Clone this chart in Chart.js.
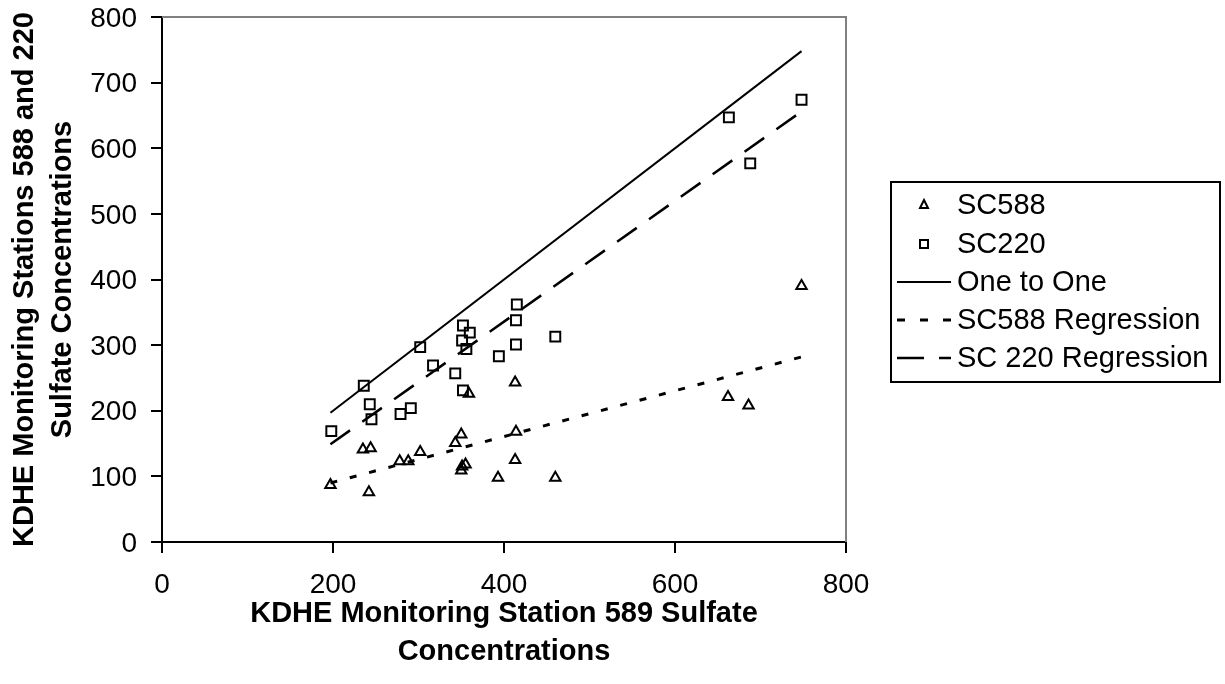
<!DOCTYPE html>
<html>
<head>
<meta charset="utf-8">
<script src="https://cdn.jsdelivr.net/npm/chart.js@4.4.1/dist/chart.umd.min.js"></script>
<style>
  body { margin: 0; background: #fff; }
  #wrap { width: 1225px; height: 684px; }
</style>
</head>
<body>
<div id="wrap"><canvas id="chart" width="1225" height="684"></canvas></div>
<script>
// values
const sc588_x = [197, 235, 244, 242, 278, 288, 302, 343, 350, 350, 351, 355, 359, 393, 413, 414, 413, 460, 662, 686, 748];
const sc588_y = [87, 141, 143, 76, 123, 123, 137, 151, 164, 109, 115, 118, 226, 98, 243, 168, 125, 98, 221, 208, 390];

const sc220_x = [198, 236, 243, 245, 279, 291, 302, 317, 343, 352, 352, 351, 360, 356, 394, 414, 414, 415, 460, 663, 688, 748];
const sc220_y = [169, 238, 210, 187, 195, 204, 297, 269, 257, 231, 330, 307, 319, 294, 283, 301, 338, 362, 313, 647, 577, 674];

const one_x = [197, 748];
const one_y = [197, 748];

const reg588_x = [197, 748];
const reg588_y = [90, 282];

const reg220_x = [197, 748];
const reg220_y = [149, 656];

const x_ticks = [0, 200, 400, 600, 800];
const y_ticks = [0, 100, 200, 300, 400, 500, 600, 700, 800];

const FONT = "'Liberation Sans', Arial, sans-serif";

function toPoints(xs, ys){
    let pts = [];
    for(let i = 0; i < xs.length; i++){
        pts.push({x: xs[i], y: ys[i]});
    }
    return pts;
}

// grey top and right edge of the plot box
const plotFrame = {
    id: "plotFrame",
    beforeDatasetsDraw(chart){
        const a = chart.chartArea;
        const ctx = chart.ctx;
        ctx.save();
        ctx.strokeStyle = "#808080";
        ctx.lineWidth = 2;
        ctx.beginPath();
        ctx.moveTo(a.left, a.top);
        ctx.lineTo(a.right, a.top);
        ctx.lineTo(a.right, a.bottom);
        ctx.stroke();
        ctx.restore();
    }
};

// legend box at the right, drawn like the original
const boxLegend = {
    id: "boxLegend",
    afterDraw(chart){
        const ctx = chart.ctx;
        const rows = [205, 244, 282, 320, 358];
        ctx.save();
        ctx.strokeStyle = "#000";
        ctx.lineWidth = 2;
        ctx.strokeRect(891, 182, 329, 200);

        chart.data.datasets.forEach(function(ds, i){
            const y = rows[i];
            ctx.save();
            ctx.strokeStyle = "#000";
            if(ds.showLine){
                ctx.lineWidth = ds.borderWidth;
                ctx.setLineDash(ds.legendDash || []);
                ctx.beginPath();
                ctx.moveTo(897, y);
                ctx.lineTo(951, y);
                ctx.stroke();
            } else if(ds.pointStyle === "rect"){
                ctx.lineWidth = 2;
                ctx.strokeRect(920, y - 4, 8, 8);
            } else {
                ctx.lineWidth = 2;
                ctx.beginPath();
                ctx.moveTo(924, y - 5);
                ctx.lineTo(928, y + 3);
                ctx.lineTo(920, y + 3);
                ctx.closePath();
                ctx.stroke();
            }
            ctx.restore();

            ctx.fillStyle = "#000";
            ctx.font = "29px " + FONT;
            ctx.textBaseline = "middle";
            ctx.textAlign = "left";
            ctx.fillText(ds.label, 957, y + 1);
        });
        ctx.restore();
    }
};

new Chart(document.getElementById("chart").getContext("2d"), {
    type: "scatter",
    data: {
        datasets: [
            {
                label: "SC588",
                data: toPoints(sc588_x, sc588_y),
                pointStyle: "triangle",
                pointRadius: 6,
                borderColor: "#000",
                backgroundColor: "transparent",
                borderWidth: 2,
                showLine: false
            },
            {
                label: "SC220",
                data: toPoints(sc220_x, sc220_y),
                pointStyle: "rect",
                pointRadius: 7,
                borderColor: "#000",
                backgroundColor: "transparent",
                borderWidth: 2,
                showLine: false
            },
            {
                label: "One to One",
                data: toPoints(one_x, one_y),
                showLine: true,
                pointRadius: 0,
                borderColor: "#000",
                borderWidth: 2
            },
            {
                label: "SC588 Regression",
                data: toPoints(reg588_x, reg588_y),
                showLine: true,
                pointRadius: 0,
                borderColor: "#000",
                borderWidth: 3,
                borderDash: [7, 13],
                legendDash: [8, 15]
            },
            {
                label: "SC 220 Regression",
                data: toPoints(reg220_x, reg220_y),
                showLine: true,
                pointRadius: 0,
                borderColor: "#000",
                borderWidth: 2.5,
                borderDash: [24, 15],
                legendDash: [27, 15]
            }
        ]
    },
    options: {
        responsive: false,
        animation: false,
        devicePixelRatio: 1,
        layout: {
            padding: {top: 17, right: 379, bottom: 0, left: 0}
        },
        plugins: {
            legend: {display: false},
            tooltip: {enabled: false}
        },
        scales: {
            x: {
                type: "linear",
                min: 0,
                max: 800,
                afterBuildTicks: function(scale){
                    scale.ticks = x_ticks.map(function(v){ return {value: v}; });
                },
                afterFit: function(scale){
                    scale.height = 142;
                    scale.paddingLeft = 0;
                    scale.paddingRight = 0;
                },
                grid: {drawOnChartArea: false, drawTicks: true, tickLength: 11, color: "#000", lineWidth: 2},
                border: {display: true, color: "#000", width: 2},
                ticks: {color: "#000", padding: 15, maxRotation: 0, font: {family: FONT, size: 28}},
                title: {
                    display: true,
                    text: ["KDHE Monitoring Station 589 Sulfate", "Concentrations"],
                    color: "#000",
                    padding: {top: 0, bottom: 13},
                    font: {family: FONT, size: 29, weight: "bold", lineHeight: 1.3}
                }
            },
            y: {
                type: "linear",
                min: 0,
                max: 800,
                afterBuildTicks: function(scale){
                    scale.ticks = y_ticks.map(function(v){ return {value: v}; });
                },
                afterFit: function(scale){
                    scale.width = 162;
                    scale.paddingTop = 0;
                    scale.paddingBottom = 0;
                },
                grid: {drawOnChartArea: false, drawTicks: true, tickLength: 11, color: "#000", lineWidth: 2},
                border: {display: true, color: "#000", width: 2},
                ticks: {color: "#000", padding: 14, labelOffset: 2, font: {family: FONT, size: 28}},
                title: {
                    display: true,
                    text: ["KDHE Monitoring Stations 588 and 220", "Sulfate Concentrations"],
                    color: "#000",
                    padding: {top: 6, bottom: 0},
                    font: {family: FONT, size: 29, weight: "bold", lineHeight: 1.3}
                }
            }
        }
    },
    plugins: [plotFrame, boxLegend]
});
</script>
</body>
</html>
